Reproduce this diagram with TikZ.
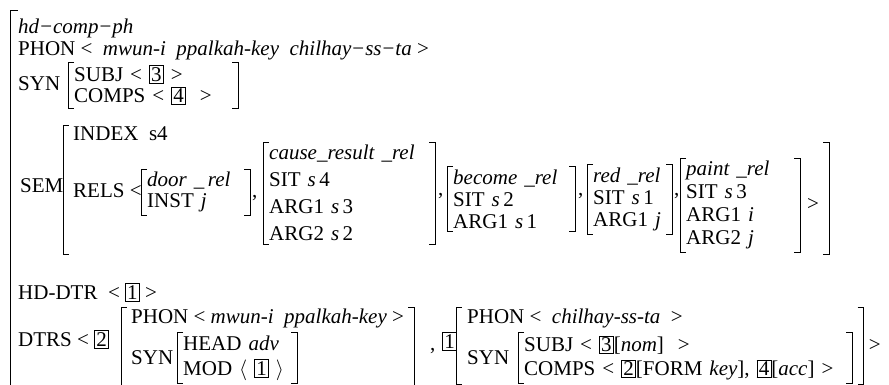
\documentclass[tikz,border=0pt]{standalone}
\usepackage{fontspec}
\setmainfont{Liberation Serif}
\usetikzlibrary{positioning,fit}
\setlength{\fboxsep}{1.5pt}
\setlength{\fboxrule}{0.6pt}
\newcommand{\tg}[1]{\fbox{#1}}
\newcommand{\mn}{\kern1pt−\kern1pt}
\newcommand{\avmfont}{\fontsize{21}{23}\selectfont}
\newcommand{\brackets}[1]{\draw ([xshift=6pt]#1.north west) -| (#1.south west) -- ++(6pt,0) ([xshift=-6pt]#1.north east) -| (#1.south east) -- ++(-6pt,0);}
\tikzset{
	lbl/.style={inner sep=0pt, anchor=base west, font=\avmfont},
	avm/.style={inner xsep=6pt, inner ysep=3pt, align=left, anchor=west, font=\fontsize{21}{#1}\selectfont},
	avm/.default=22
}
\begin{document}
\begin{tikzpicture}[x=1pt,y=-1pt]
    \useasboundingbox (0,0) rectangle (889,385);
    \draw (18,10) -- (10,10) -- (10,385);
    \node (type) [lbl] at (18,34) {\textit{hd}\mn\textit{comp}\mn\textit{ph}};
    \node (phon) [lbl] at (18,56) {PHON < \ \textit{mwun-i}\ \ \textit{ppalkah-key}\ \ \textit{chilhay}\mn\textit{ss}\mn\textit{ta} >};
    \node (syn) [lbl] at (18,91) {SYN};
    \node (synval) [avm=21, text width=158pt] at (68,85) {SUBJ < \tg{3} >\\COMPS < \tg{4}\ \ >};
    \brackets{synval}
    \node (index) [lbl] at (73,141) {INDEX\ \ s4};
    \node (sem) [lbl] at (20,192) {SEM};
    \node (rels) [lbl] at (73,197) {RELS <};
    \node (door) [avm=21, text width=97pt] at (141,192) {\textit{door\ \_\,rel}\\INST \textit{j}};
    \node (comma1) [lbl] at (252,197) {,};
    \node (cause) [avm=27, text width=160pt] at (263,193) {\textit{cause\_result \_rel}\\SIT \textit{s}\,4\\ARG1 \textit{s}\,3\\ARG2 \textit{s}\,2};
    \node (comma2) [lbl] at (438,196) {,};
    \node (become) [avm=22, text width=116pt] at (447,199) {\textit{become \_rel}\\SIT \textit{s}\,2\\ARG1 \textit{s}\,1};
    \node (comma3) [lbl] at (578,196) {,};
    \node (red) [avm=22, text width=73pt] at (587,199) {\textit{red \_rel}\\SIT \textit{s}\,1\\ARG1 \textit{j}};
    \node (comma4) [lbl] at (674,196) {,};
    \node (paint) [avm=23, text width=108pt] at (680,205) {\textit{paint \_rel}\\SIT \textit{s}\,3\\ARG1 \textit{i}\\ARG2 \textit{j}};
    \node (relsend) [lbl] at (807,210) {>};
    \foreach \n in {door,cause,become,red,paint} {\brackets{\n}}
    \node (semval) [fit=(index)(rels)(cause)(paint)(relsend), inner xsep=10pt, inner ysep=2pt] {};
    \coordinate (semtop) at (semval.east |- cause.north);
    \draw ([xshift=6pt]semval.north west) -| (semval.south west) -- ++(6pt,0);
    \draw ([xshift=-6pt]semtop) -| (semval.south east) -- ++(-6pt,0);
    \node (hddtr) [lbl] at (18,299) {HD-DTR\ \ < \tg{1} >};
    \node (dtrs) [lbl] at (18,346) {DTRS < \tg{2}};
    \node (ldphon) [lbl] at (131,323) {PHON < \textit{mwun-i}\ \ \textit{ppalkah-key} >};
    \node (ldsyn) [lbl] at (131,364) {SYN};
    \node (ldsynval) [avm=25, text width=108pt] at (177,358) {HEAD \textit{adv}\\MOD $\langle$\ \tg{1}\ $\rangle$};
    \brackets{ldsynval}
    \node (ldtr) [fit=(ldphon)(ldsyn)(ldsynval), inner xsep=10pt, inner ysep=1pt] {};
    \brackets{ldtr}
    \node (comma5) [lbl] at (430,350) {,};
    \node (tag) [lbl] at (442,348) {\tg{1}};
    \node (rdphon) [lbl] at (467,323) {PHON < \ \textit{chilhay-ss-ta}\ \ >};
    \node (rdsyn) [lbl] at (467,364) {SYN};
    \node (rdsynval) [avm=24, text width=322pt] at (518,358) {SUBJ < \tg{3}[\textit{nom}]\ \ >\\COMPS < \tg{2}[FORM \textit{key}], \tg{4}[\textit{acc}] >};
    \brackets{rdsynval}
    \node (rdtr) [fit=(rdphon)(rdsyn)(rdsynval), inner xsep=11pt, inner ysep=1pt] {};
    \brackets{rdtr}
    \node (dtrsend) [lbl, right=5pt of rdtr] {>};
\end{tikzpicture}
\end{document}
